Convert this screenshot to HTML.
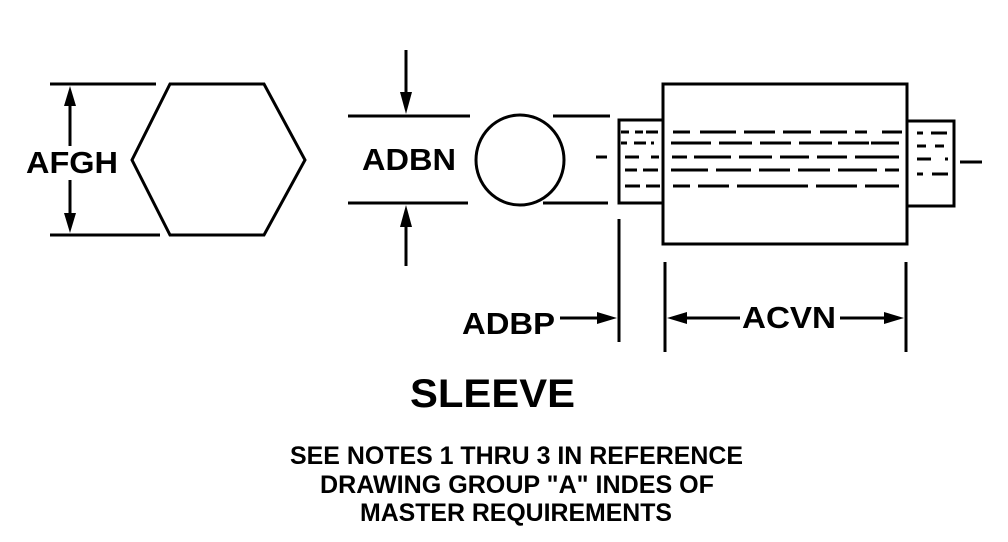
<!DOCTYPE html>
<html><head><meta charset="utf-8"><style>
html,body{margin:0;padding:0;background:#fff;width:1008px;height:542px;overflow:hidden}
svg text{font-family:"Liberation Sans",Arial,sans-serif;font-weight:bold;fill:#000}
</style></head><body>
<svg width="1008" height="542" viewBox="0 0 1008 542" xmlns="http://www.w3.org/2000/svg">
<g stroke="#000" stroke-width="3" fill="none">
<polygon points="170,84 264,84 305,160 264,235 170,235 132,160"/>
<line x1="50" y1="84" x2="156" y2="84"/>
<line x1="50" y1="235" x2="160" y2="235"/>
<line x1="70" y1="100" x2="70" y2="146"/>
<line x1="70" y1="180" x2="70" y2="220"/>
<line x1="348" y1="116" x2="470" y2="116"/>
<line x1="348" y1="203" x2="468" y2="203"/>
<line x1="406" y1="50" x2="406" y2="96"/>
<line x1="406" y1="222" x2="406" y2="266"/>
<ellipse cx="520" cy="160" rx="44" ry="45"/>
<line x1="553" y1="116" x2="610" y2="116"/>
<line x1="543" y1="203" x2="608" y2="203"/>
<line x1="596" y1="157" x2="607" y2="157"/>
<rect x="619" y="120" width="44" height="83"/>
<rect x="663" y="84" width="244" height="160"/>
<rect x="907" y="121" width="47" height="85"/>
<line x1="960" y1="162" x2="982" y2="162"/>
<line x1="619" y1="219" x2="619" y2="342"/>
<line x1="665" y1="262" x2="665" y2="352"/>
<line x1="906" y1="262" x2="906" y2="352"/>
<line x1="560" y1="318" x2="600" y2="318"/>
<line x1="685" y1="318" x2="740" y2="318"/>
<line x1="840" y1="318" x2="888" y2="318"/>
</g>
<g stroke="#000" stroke-width="3" fill="none">
<path d="M621 132h8 M635 132h8 M646 132h12 M673 132h17 M700 132h36 M744 132h31 M783 132h28 M820 132h27 M855 132h12 M882 132h20
M621 143h6 M634 143h12 M651 143h3 M671 143h40 M719 143h33 M760 143h31 M799 143h33 M838 143h31 M871 143h28
M625 157h14 M651 157h8 M672 157h15 M694 157h37 M739 157h33 M780 157h29 M817 157h30 M855 157h44
M625 170h12 M643 170h15 M671 170h37 M716 170h35 M759 170h31 M798 170h32 M838 170h39 M885 170h14
M625 186h15 M646 186h14 M673 186h17 M698 186h31 M737 186h71 M816 186h41 M865 186h34
M917 133h6 M931 133h16 M917 146h9 M935 146h9 M917 159h14 M945 159h3 M917 174h6 M932 174h16"/>
</g>
<g fill="#000">
<polygon points="70,86 64,106 76,106"/>
<polygon points="70,233 64,213 76,213"/>
<polygon points="406,114 400,92 412,92"/>
<polygon points="406,205 400,227 412,227"/>
<polygon points="617,318 597,312 597,324"/>
<polygon points="667,318 687,312 687,324"/>
<polygon points="904,318 884,312 884,324"/>
</g>
<text x="26" y="173" font-size="31" textLength="92" lengthAdjust="spacingAndGlyphs">AFGH</text>
<text x="362" y="170" font-size="31" textLength="94" lengthAdjust="spacingAndGlyphs">ADBN</text>
<text x="462" y="334" font-size="31" textLength="93" lengthAdjust="spacingAndGlyphs">ADBP</text>
<text x="742" y="328" font-size="31" textLength="94" lengthAdjust="spacingAndGlyphs">ACVN</text>
<text x="410" y="407" font-size="40" textLength="165" lengthAdjust="spacingAndGlyphs">SLEEVE</text>
<text x="290" y="464" font-size="25" textLength="453" lengthAdjust="spacingAndGlyphs">SEE NOTES 1 THRU 3 IN REFERENCE</text>
<text x="320" y="493" font-size="25" textLength="394" lengthAdjust="spacingAndGlyphs">DRAWING GROUP "A" INDES OF</text>
<text x="360" y="521" font-size="25" textLength="312" lengthAdjust="spacingAndGlyphs">MASTER REQUIREMENTS</text>
</svg>
</body></html>
